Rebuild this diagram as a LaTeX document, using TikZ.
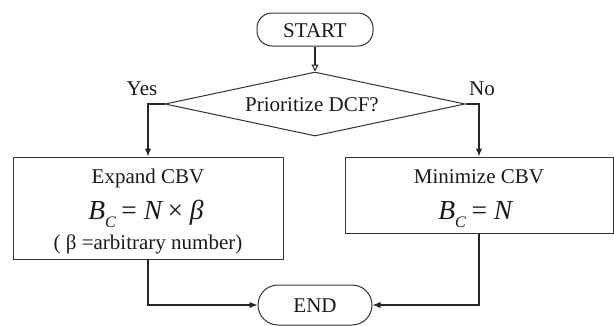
\documentclass[tikz,border=0pt]{standalone}
\usepackage{fontspec}
\setmainfont{Liberation Serif}
\usetikzlibrary{shapes.geometric,arrows.meta}

% formula pieces set in the serif italic
\newcommand{\fmsize}{\fontsize{27.5}{28}\selectfont}
\newcommand{\bsubc}{\textit{B}\raisebox{-0.3em}{\fontsize{16}{16}\selectfont\textit{C}}}

\begin{document}
\begin{tikzpicture}[x=1pt,y=-1pt,
  txt/.style={font=\fontsize{21}{24}\selectfont, text=black!90, inner sep=0pt, anchor=base},
  frm/.style={font=\fmsize, text=black!90, inner sep=0pt, anchor=base},
  shapeline/.style={draw=black!80, line width=1pt},
  terminal/.style={shapeline, rounded corners=15pt, inner sep=0pt},
  procbox/.style={shapeline, rectangle, inner sep=0pt},
  decision/.style={shapeline, diamond, inner sep=0pt, aspect=4.69},
  conn/.style={draw=black!85, line width=1.3pt, -{Latex[length=8pt,width=6.5pt]}},
  startconn/.style={draw=black!85, line width=1.8pt, -{Triangle[open,length=7pt,width=7pt,line width=1pt]}}
]
\useasboundingbox (0,0) rectangle (614,325);

% terminals
\node[terminal, minimum width=116pt, minimum height=33pt] (start) at (315,29.5) {};
\node[txt] at (315,37) {START};

\node[terminal, rounded corners=20pt, minimum width=114pt, minimum height=40pt] (end) at (315,305) {};
\node[txt] at (315,312.5) {END};

% decision
\node[decision, minimum width=300pt, minimum height=64pt] (dcf) at (315,104) {};
\node[txt] at (312,111) {Prioritize DCF?};
\node[txt] (yes) at (142,95) {Yes};
\node[txt] (no) at (482,95) {No};

% process boxes
\node[procbox, minimum width=270pt, minimum height=102pt] (expand) at (148,208) {};
\node[txt] at (148,183) {Expand CBV};
\node[frm] at (146,219) {\bsubc\hspace{0.2em}=\hspace{0.25em}\textit{N}\hspace{0.15em}×\hspace{0.25em}\textit{β}};
\node[txt] at (148,249.5) {( β =arbitrary number)};

\node[procbox, minimum width=268pt, minimum height=76pt] (minim) at (479,195) {};
\node[txt] at (479,183) {Minimize CBV};
\node[frm] at (476,219) {\bsubc\hspace{0.2em}=\hspace{0.25em}\textit{N}};

% connectors
\draw[startconn] (start.south) -- (dcf.north);
\draw[conn] (dcf.west) -| (expand.north);
\draw[conn] (dcf.east) -| (minim.north);
\draw[conn] (expand.south) |- (end.west);
\draw[conn] (minim.south) |- (end.east);
\end{tikzpicture}
\end{document}
